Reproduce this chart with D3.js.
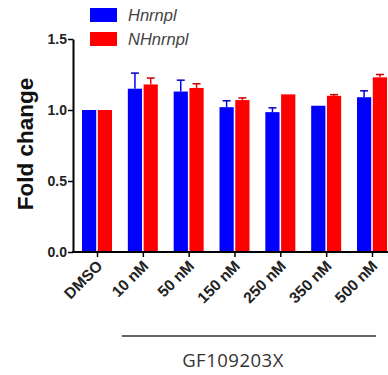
<!DOCTYPE html>
<html>
<head>
<meta charset="utf-8">
<script src="https://cdn.jsdelivr.net/npm/d3@7"></script>
<style>
  body { margin: 0; background: #fff; }
  svg { display: block; font-family: "Liberation Sans", Arial, sans-serif; }
</style>
</head>
<body>
<div id="chart"></div>
<script>
// dati
const categories = ["DMSO", "10 nM", "50 nM", "150 nM", "250 nM", "350 nM", "500 nM"];
const seriesNames = ["Hnrnpl", "NHnrnpl"];
const hnrnplValues = [1.0, 1.15, 1.13, 1.02, 0.985, 1.03, 1.09];
const hnrnplErrors = [0.0, 0.11, 0.08, 0.045, 0.03, 0.0, 0.045];
const nhnrnplValues = [1.0, 1.18, 1.155, 1.07, 1.11, 1.10, 1.23];
const nhnrnplErrors = [0.0, 0.045, 0.03, 0.015, 0.0, 0.008, 0.02];
const yTicks = [0.0, 0.5, 1.0, 1.5];
const colors = ["#0000ff", "#ff0000"];

const width = 388, height = 375;
const svg = d3.select("#chart").append("svg").attr("width", width).attr("height", height);

const x = d3.scalePoint().domain(categories).range([97, 372]);
const xSub = d3.scaleBand().domain(seriesNames).range([-15, 15]).paddingInner(0.1);
const y = d3.scaleLinear().domain([0, 1.5]).range([252, 39]);

const data = categories.map((c, i) => ({
  cat: c,
  vals: [
    { name: seriesNames[0], v: hnrnplValues[i], e: hnrnplErrors[i], col: colors[0] },
    { name: seriesNames[1], v: nhnrnplValues[i], e: nhnrnplErrors[i], col: colors[1] }
  ]
}));

// barre
const groups = svg.selectAll(".grp").data(data).enter().append("g")
  .attr("transform", d => `translate(${x(d.cat)},0)`);

groups.selectAll("rect").data(d => d.vals).enter().append("rect")
  .attr("x", d => xSub(d.name))
  .attr("width", xSub.bandwidth())
  .attr("y", d => y(d.v))
  .attr("height", d => y(0) - y(d.v))
  .attr("fill", d => d.col);

// barre di errore (solo sopra)
const eb = groups.selectAll(".err").data(d => d.vals.filter(v => v.e > 0)).enter().append("g");
eb.append("line")
  .attr("x1", d => xSub(d.name) + xSub.bandwidth() / 2)
  .attr("x2", d => xSub(d.name) + xSub.bandwidth() / 2)
  .attr("y1", d => y(d.v))
  .attr("y2", d => y(d.v + d.e))
  .attr("stroke", d => d.col).attr("stroke-width", 1.5);
eb.append("line")
  .attr("x1", d => xSub(d.name) + xSub.bandwidth() / 2 - 4)
  .attr("x2", d => xSub(d.name) + xSub.bandwidth() / 2 + 4)
  .attr("y1", d => y(d.v + d.e))
  .attr("y2", d => y(d.v + d.e))
  .attr("stroke", d => d3.color(d.col).darker(0.8)).attr("stroke-width", 1.5);

// asse y
const yAxis = svg.append("g").attr("transform", "translate(73,0)")
  .call(d3.axisLeft(y).tickValues(yTicks).tickFormat(d3.format(".1f")).tickSize(5).tickSizeOuter(0));
yAxis.select(".domain").attr("stroke", "#000").attr("stroke-width", 2);
yAxis.selectAll(".tick line").attr("stroke", "#000").attr("stroke-width", 1.5);
yAxis.selectAll(".tick text").attr("font-size", 14).attr("font-weight", "bold").attr("fill", "#222").attr("x", -6);

// asse x
svg.append("line").attr("x1", 72).attr("x2", width).attr("y1", y(0)).attr("y2", y(0))
  .attr("stroke", "#000").attr("stroke-width", 2);
const xAxis = svg.append("g").attr("transform", `translate(0,${y(0)})`)
  .call(d3.axisBottom(x).tickSize(5).tickSizeOuter(0));
xAxis.select(".domain").remove();
xAxis.selectAll(".tick line").attr("stroke", "#000").attr("stroke-width", 1.5);
xAxis.selectAll(".tick text")
  .attr("font-size", 15.5).attr("font-weight", "bold").attr("fill", "#222")
  .attr("text-anchor", "end").attr("dy", 0).attr("y", 0)
  .attr("transform", "translate(6,15) rotate(-45)");

// titolo asse y
svg.append("text")
  .attr("transform", "translate(33,144) rotate(-90)")
  .attr("text-anchor", "middle")
  .attr("font-size", 22.5).attr("font-weight", "bold").attr("fill", "#111")
  .text("Fold change");

// linea e etichetta del trattamento
svg.append("line").attr("x1", x(categories[1]) - 21).attr("x2", x(categories[6]) + 4)
  .attr("y1", 336).attr("y2", 336).attr("stroke", "#666").attr("stroke-width", 2);
svg.append("text").attr("x", 233).attr("y", 367).attr("text-anchor", "middle")
  .attr("font-size", 18.5).attr("letter-spacing", 0.5).attr("fill", "#333")
  .attr("font-family", "'Open Sans', sans-serif")
  .text("GF109203X");

// legenda
const legend = svg.selectAll(".leg").data(seriesNames).enter().append("g")
  .attr("transform", (d, i) => `translate(90,${8 + i * 24})`);
legend.append("rect").attr("width", 27).attr("height", 14).attr("fill", (d, i) => colors[i]);
legend.append("text").attr("x", 38).attr("y", 13)
  .attr("font-size", 16.5).attr("font-style", "italic").attr("fill", "#444")
  .text(d => d);
</script>
</body>
</html>
